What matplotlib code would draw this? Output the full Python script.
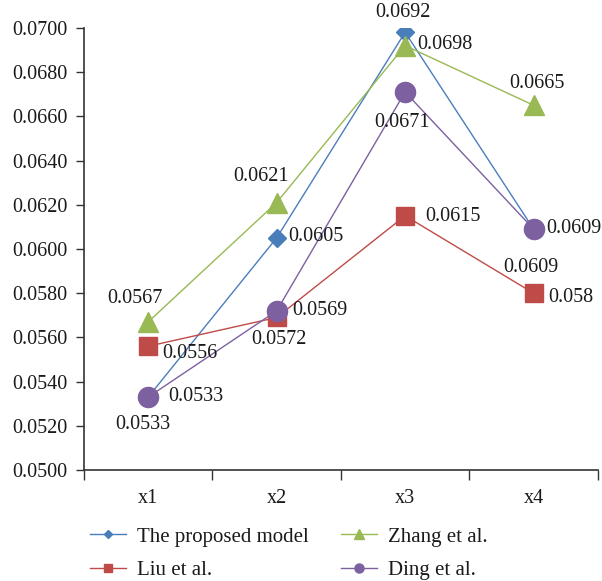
import numpy as np
import matplotlib
matplotlib.use('Agg')
import matplotlib.pyplot as plt

plt.rcParams['font.family'] = ['Liberation Serif', 'DejaVu Serif']

### Data
categories = ['x1', 'x2', 'x3', 'x4']
proposed = [0.0533, 0.0605, 0.0698, 0.0609]
liu = [0.0556, 0.0569, 0.0615, 0.058]
zhang = [0.0567, 0.0621, 0.0692, 0.0665]
ding = [0.0533, 0.0572, 0.0671, 0.0609]
value_text = {
    'proposed': ['0.0533', '0.0605', '0.0698', '0.0609'],
    'liu': ['0.0556', '0.0569', '0.0615', '0.058'],
    'zhang': ['0.0567', '0.0621', '0.0692', '0.0665'],
    'ding': ['0.0533', '0.0572', '0.0671', '0.0609'],
}

# label offsets in pixels (dx, dy) from each point
label_offsets = {
    'proposed': [(-5, -27), (39, 1), (40, -12), (-3, -38)],
    'liu': [(42, -7), (43, 7), (48, -1), (37, -4)],
    'zhang': [(-13, 23), (-16, 26), (-2, 33), (3, 22)],
    'ding': [(48, 1), (2, -29), (-3, -31), (40, 1)],
}

styles = {
    'proposed': dict(color='#4a7ebb', marker='D', ms=9.5, label='The proposed model'),
    'liu': dict(color='#be4b48', marker='s', ms=13.5, label='Liu et al.'),
    'zhang': dict(color='#98b954', marker='^', ms=15, label='Zhang et al.'),
    'ding': dict(color='#7d60a0', marker='o', ms=14.5, label='Ding et al.'),
}
series = {'proposed': proposed, 'liu': liu, 'zhang': zhang, 'ding': ding}

fig = plt.figure(figsize=(6.02, 5.81), dpi=100)
ax = fig.add_axes([0.1395, 0.191, 0.8535, 0.761])

x = np.arange(len(categories))
handles = []
for key in ['proposed', 'liu', 'zhang', 'ding']:
    st = styles[key]
    h, = ax.plot(x, series[key], color=st['color'], marker=st['marker'], ms=st['ms'],
                 lw=1.0, mec=st['color'], mfc=st['color'], label=st['label'])
    handles.append(h)

# value labels next to the points
for key in ['proposed', 'liu', 'zhang', 'ding']:
    for i, v in enumerate(series[key]):
        ax.annotate(value_text[key][i], xy=(x[i], v), xytext=label_offsets[key][i],
                    textcoords='offset pixels', ha='center', va='center',
                    fontsize=14.5, color='#1a1a1a')

ax.set_xlim(-0.5, 3.5)
ax.set_ylim(0.05, 0.07)
ax.set_yticks(np.arange(0.05, 0.0701, 0.002))
ax.set_yticklabels(['%.4f' % t for t in np.arange(0.05, 0.0701, 0.002)])

ax.set_xticks(x)
ax.set_xticklabels(categories)
ax.set_xticks(np.arange(-0.5, 3.6, 1), minor=True)
ax.tick_params(axis='x', which='major', length=0, pad=14, labelsize=14.5, labelcolor='#1a1a1a')
ax.tick_params(axis='x', which='minor', length=7, width=1, direction='out', color='#333333')
ax.tick_params(axis='y', length=6, width=1, direction='out', pad=6, labelsize=14.5,
               labelcolor='#1a1a1a', color='#333333')

for s in ['top', 'right']:
    ax.spines[s].set_visible(False)
for s in ['left', 'bottom']:
    ax.spines[s].set_color('#333333')
    ax.spines[s].set_linewidth(1.2)

fig.legend(handles=handles, ncol=2, loc='upper left', bbox_to_anchor=(0.118, 0.125),
           frameon=False, fontsize=15, markerscale=0.45, handlelength=1.75,
           handletextpad=0.5, columnspacing=1.55, labelspacing=0.65,
           labelcolor='#1a1a1a')

fig.savefig('out.png', dpi=100)
